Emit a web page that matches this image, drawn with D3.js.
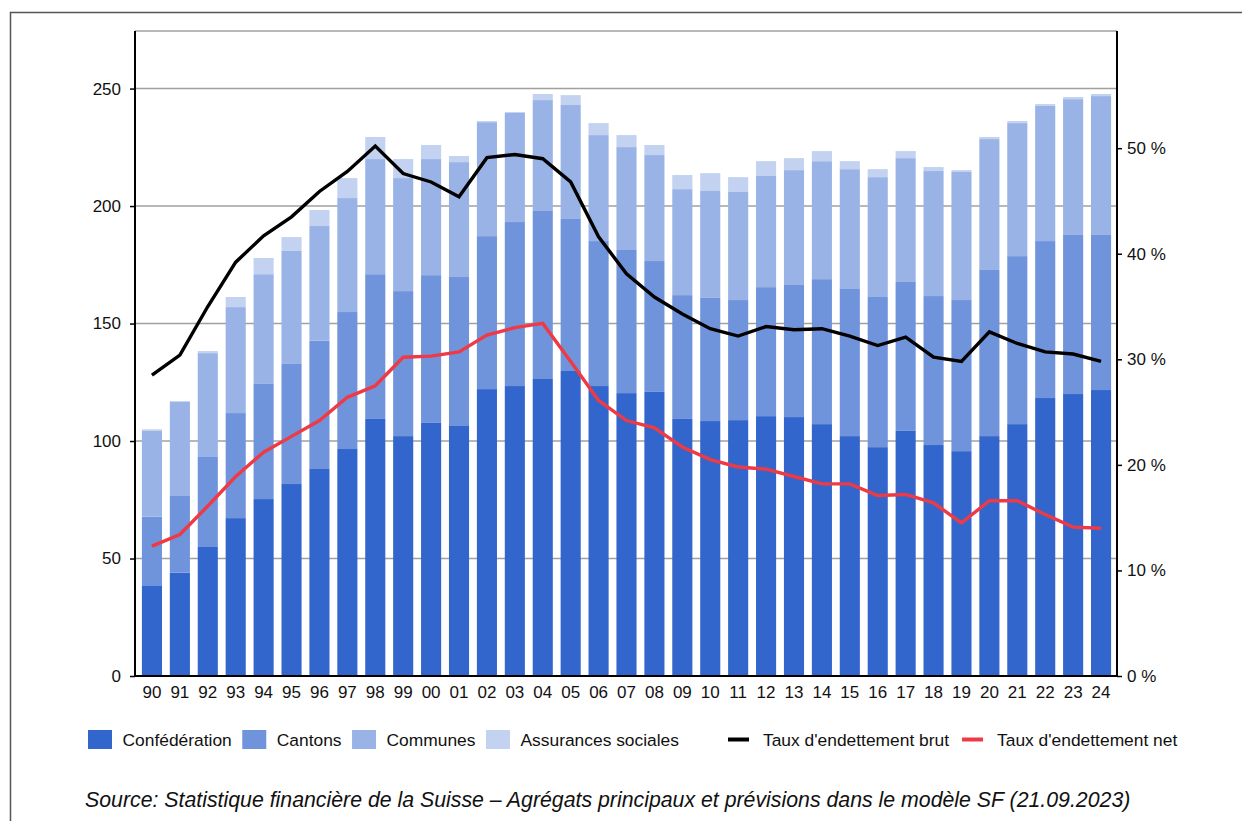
<!DOCTYPE html>
<html>
<head>
<meta charset="utf-8">
<script src="https://cdn.jsdelivr.net/npm/d3@7"></script>
<style>
  body { margin: 0; background: #fff; }
  svg text { font-family: "Liberation Sans", Arial, Helvetica, sans-serif; fill: #111; }
</style>
</head>
<body>
<svg id="chart" width="1242" height="821"></svg>
<script>
// years on the x axis (labels)
const years = ['90','91','92','93','94','95','96','97','98','99','00','01','02','03','04','05','06',
  '07','08','09','10','11','12','13','14','15','16','17','18','19','20','21','22','23','24'];

// debt by level of government, bn CHF
const confederation = [38.3,44.0,54.9,67.2,75.3,81.7,88.1,96.6,109.4,102.1,107.7,106.4,122.1,123.4,126.4,129.8,123.4,
  120.4,120.9,109.4,108.5,108.9,110.6,110.2,107.2,102.1,97.4,104.3,98.3,95.7,102.1,107.2,118.3,120.0,121.7];
const cantons = [29.5,32.6,38.3,44.7,49.0,51.1,54.6,58.3,61.6,61.7,62.9,63.4,65.1,69.8,71.5,64.7,61.7,
  60.9,55.7,52.7,52.4,51.1,54.9,56.2,61.7,62.6,63.9,63.4,63.4,64.3,70.7,71.5,66.8,67.7,66.0];
const communes = [36.7,40.0,44.2,45.1,46.7,48.1,48.8,48.5,49.0,48.1,49.4,48.9,48.5,46.4,47.2,48.5,45.1,
  43.8,45.1,45.1,45.5,46.0,47.3,48.9,50.2,51.0,51.0,52.7,53.2,54.5,55.7,56.6,57.5,57.8,59.1];
const assurances = [0.5,0.4,0.9,4.3,6.9,5.9,6.8,8.5,9.4,8.1,6.0,2.6,0.5,0.4,2.6,4.2,5.1,
  5.1,4.3,6.0,7.6,6.3,6.3,5.1,4.3,3.4,3.4,3.0,1.7,0.8,0.9,0.9,0.8,0.9,0.9];

// debt ratios, % of GDP
const tauxBrut = [28.5,30.4,35.0,39.2,41.7,43.5,45.9,47.8,50.2,47.6,46.8,45.4,49.1,49.4,49.0,46.8,41.6,
  38.1,35.9,34.3,32.9,32.2,33.1,32.8,32.9,32.2,31.3,32.1,30.2,29.8,32.6,31.5,30.7,30.5,29.8];
const tauxNet = [12.3,13.4,16.1,18.9,21.2,22.7,24.2,26.4,27.5,30.2,30.3,30.7,32.3,33.0,33.4,29.8,26.1,
  24.2,23.5,21.7,20.5,19.8,19.6,18.9,18.2,18.2,17.1,17.2,16.4,14.5,16.6,16.6,15.3,14.1,14.0];

const leftTicks = [0, 50, 100, 150, 200, 250];
const rightTicks = [0, 10, 20, 30, 40, 50];

const barSeries = ['Confédération', 'Cantons', 'Communes', 'Assurances sociales'];
const lineSeries = ["Taux d'endettement brut", "Taux d'endettement net"];
const sourceText = 'Source: Statistique financière de la Suisse – Agrégats principaux et prévisions dans le modèle SF (21.09.2023)';

// DebtChart draws the stacked debt bars
// with the two debt ratio lines on top
class DebtChart {
  constructor(selector) {
    this.svg = d3.select(selector);
    this.left = 135;
    this.right = 1117;
    this.top = 31;
    this.bottom = 676;
    this.barColors = ['#3366cc', '#7094db', '#99b3e6', '#c2d2f0'];
    this.lineColors = ['#000000', '#ee3a45'];
  }

  draw() {
    const svg = this.svg;

    // outer frame
    svg.append('rect')
      .attr('x', 10.5).attr('y', 12.5)
      .attr('width', 1240).attr('height', 830)
      .attr('fill', 'none').attr('stroke', '#555').attr('stroke-width', 1.5);

    const x = d3.scaleBand()
      .domain(years)
      .range([138, 1115])
      .paddingInner(0.28)
      .paddingOuter(0.14);
    const y = d3.scaleLinear().domain([0, 274.5]).range([this.bottom, this.top]);
    const yr = d3.scaleLinear().domain([0, 61.1]).range([this.bottom, this.top]);

    // gridlines behind bars
    svg.append('g').selectAll('line')
      .data(leftTicks.slice(1).concat([274.5]))
      .enter().append('line')
      .attr('x1', this.left).attr('x2', this.right)
      .attr('y1', (d) => y(d)).attr('y2', (d) => y(d))
      .attr('stroke', '#a0a0a0').attr('stroke-width', 1.6);

    const rows = years.map((yr, i) => ({
      year: yr,
      'Confédération': confederation[i],
      'Cantons': cantons[i],
      'Communes': communes[i],
      'Assurances sociales': assurances[i]
    }));
    const stacked = d3.stack().keys(barSeries)(rows);

    svg.append('g').selectAll('g')
      .data(stacked)
      .enter().append('g')
      .attr('fill', (d, i) => this.barColors[i])
      .selectAll('rect')
      .data((d) => d)
      .enter().append('rect')
      .attr('x', (d) => x(d.data.year))
      .attr('width', x.bandwidth())
      .attr('y', (d) => y(d[1]))
      .attr('height', (d) => y(d[0]) - y(d[1]));

    // axes
    const leftAxis = svg.append('g')
      .attr('transform', `translate(${this.left},0)`)
      .call(d3.axisLeft(y).tickValues(leftTicks).tickSize(5).tickPadding(9));
    const rightAxis = svg.append('g')
      .attr('transform', `translate(${this.right},0)`)
      .call(d3.axisRight(yr).tickValues(rightTicks).tickSize(5).tickPadding(5)
        .tickFormat((d) => d + ' %'));
    const bottomAxis = svg.append('g')
      .attr('transform', `translate(0,${this.bottom})`)
      .call(d3.axisBottom(x).tickSize(0).tickPadding(10));

    [leftAxis, rightAxis, bottomAxis].forEach((g) => {
      g.select('.domain').remove();
      g.selectAll('line').attr('stroke', '#000').attr('stroke-width', 1.5);
      g.selectAll('text').style('font-size', '17px').attr('fill', '#111');
    });

    svg.append('line')
      .attr('x1', this.left).attr('x2', this.left)
      .attr('y1', this.top).attr('y2', this.bottom + 1)
      .attr('stroke', '#000').attr('stroke-width', 2);
    svg.append('line')
      .attr('x1', this.right).attr('x2', this.right)
      .attr('y1', this.top).attr('y2', this.bottom + 1)
      .attr('stroke', '#000').attr('stroke-width', 2);
    svg.append('line')
      .attr('x1', this.left).attr('x2', this.right)
      .attr('y1', this.bottom).attr('y2', this.bottom)
      .attr('stroke', '#000').attr('stroke-width', 2);

    // ratio lines
    const cx = (i) => x(years[i]) + x.bandwidth() / 2;
    [tauxBrut, tauxNet].forEach((series, k) => {
      const line = d3.line()
        .x((d, i) => cx(i))
        .y((d) => yr(d));
      svg.append('path')
        .datum(series)
        .attr('d', line)
        .attr('fill', 'none')
        .attr('stroke', this.lineColors[k])
        .attr('stroke-width', 3.4)
        .attr('stroke-linejoin', 'miter');
    });

    this._legend();

    svg.append('text')
      .attr('x', 85).attr('y', 807)
      .style('font-size', '21.3px')
      .style('font-style', 'italic')
      .text(sourceText);
  }

  _legend() {
    const svg = this.svg;
    const ly = 739.5;
    let lx = 88;
    barSeries.forEach((name, i) => {
      svg.append('rect')
        .attr('x', lx).attr('y', ly - 9.5)
        .attr('width', 24).attr('height', 19)
        .attr('fill', this.barColors[i]);
      const t = svg.append('text')
        .attr('x', lx + 34.5).attr('y', ly + 6)
        .style('font-size', '17.4px')
        .text(name);
      lx += 34.5 + t.node().getComputedTextLength() + 10.5;
    });

    lx = 728;
    lineSeries.forEach((name, i) => {
      svg.append('line')
        .attr('x1', lx).attr('x2', lx + 21)
        .attr('y1', ly).attr('y2', ly)
        .attr('stroke', this.lineColors[i]).attr('stroke-width', 4);
      const t = svg.append('text')
        .attr('x', lx + 35).attr('y', ly + 6)
        .style('font-size', '17.4px')
        .text(name);
      lx += 35 + t.node().getComputedTextLength() + 13;
    });
  }
}

new DebtChart('#chart').draw();
</script>
</body>
</html>
